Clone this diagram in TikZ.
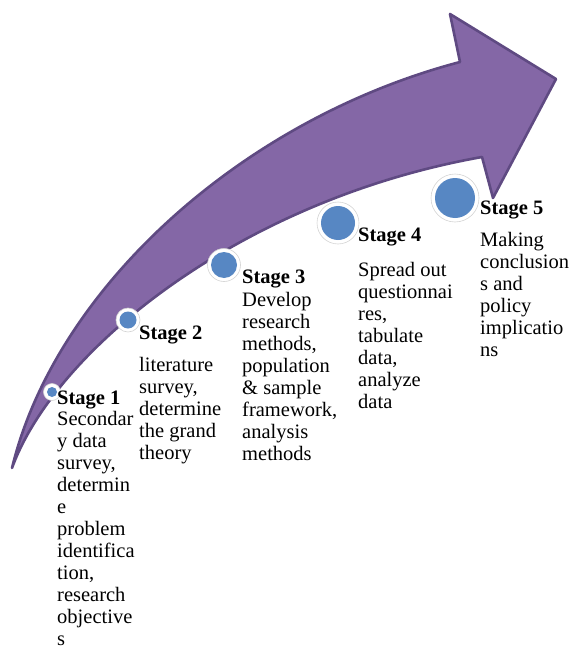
\documentclass[tikz,border=0pt]{standalone}
\usepackage{fontspec}
\setmainfont{Liberation Serif}
\definecolor{arrowfill}{HTML}{8467A6}
\definecolor{arrowline}{HTML}{5F4A82}
\definecolor{dotblue}{HTML}{5787C3}
\definecolor{ringline}{HTML}{D4D4D4}
\begin{document}
\begin{tikzpicture}[x=1pt,y=-1pt,
  bigarrow/.style={fill=arrowfill,draw=arrowline,line width=2.6pt,line join=round},
  ring/.style={circle,fill=white,draw=ringline,line width=0.6pt,inner sep=0pt},
  dot/.style={circle,fill=dotblue,inner sep=0pt},
  heading/.style={anchor=base west,inner sep=0pt,font=\fontsize{20.5}{22}\selectfont\bfseries},
  body/.style={anchor=north west,inner sep=0pt,align=left,font=\fontsize{20.5}{22}\selectfont}]
\useasboundingbox (0,0) rectangle (574,650);
\draw[bigarrow] (12,468) .. controls (55,290) and (240,120) .. (460,62) -- (450,14) -- (556,79) -- (493,198) -- (482,157) .. controls (240,200) and (55,350) .. (12,468) -- cycle;
% stage markers
\node[ring,minimum size=17pt] (r1) at (52,392) {};
\node[dot,minimum size=10pt] (d1) at (r1) {};
\node[ring,minimum size=24pt] (r2) at (128,320) {};
\node[dot,minimum size=17pt] (d2) at (r2) {};
\node[ring,minimum size=33pt] (r3) at (224,265) {};
\node[dot,minimum size=26pt] (d3) at (r3) {};
\node[ring,minimum size=42pt] (r4) at (338,223) {};
\node[dot,minimum size=34pt] (d4) at (r4) {};
\node[ring,minimum size=48pt] (r5) at (455,198) {};
\node[dot,minimum size=40pt] (d5) at (r5) {};
% headings
\node[heading] (h1) at (57,404) {Stage 1};
\node[heading] (h2) at (139,339) {Stage 2};
\node[heading] (h3) at (242,283) {Stage 3};
\node[heading] (h4) at (358,241) {Stage 4};
\node[heading] (h5) at (480,214) {Stage 5};
% bodies
\node[body] (b1) at (57,411) {Secondar\\y data\\survey,\\determin\\e\\problem\\identifica\\tion,\\research\\objective\\s};
\node[body] (b2) at (139,357) {literature\\survey,\\determine\\the grand\\theory};
\node[body] (b3) at (242,292) {Develop\\research\\methods,\\population\\\& sample\\framework,\\analysis\\methods};
\node[body] (b4) at (358,262) {Spread out\\questionnai\\res,\\tabulate\\data,\\analyze\\data};
\node[body] (b5) at (480,232) {Making\\conclusion\\s and\\policy\\implicatio\\ns};
\end{tikzpicture}
\end{document}
